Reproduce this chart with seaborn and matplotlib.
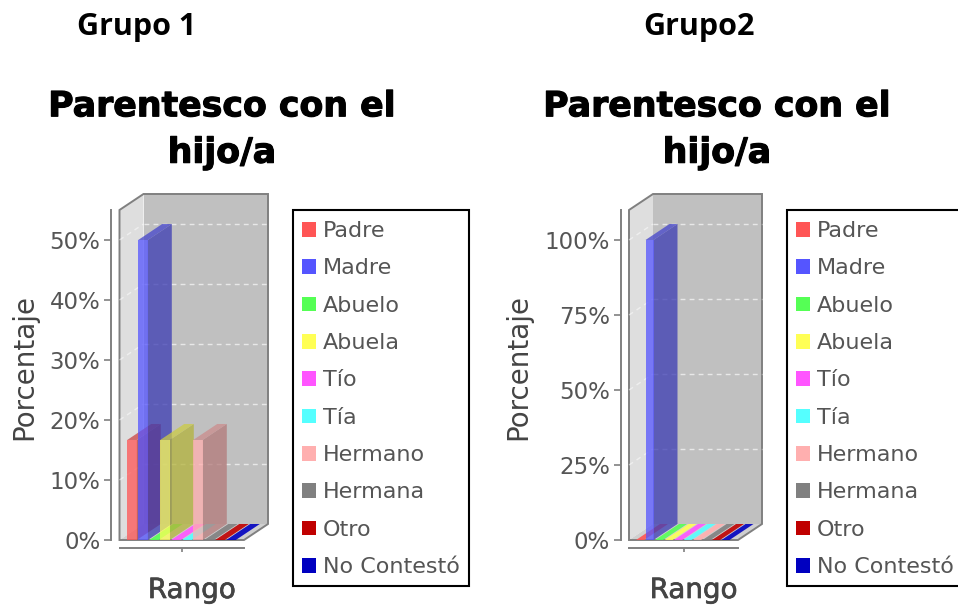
import matplotlib
matplotlib.use("Agg")
import matplotlib.pyplot as plt
import matplotlib.patheffects as pe
from matplotlib.patches import Polygon, Patch, Rectangle
from matplotlib.colors import to_rgb
import pandas as pd
import seaborn as sns

categories = ["Padre", "Madre", "Abuelo", "Abuela", "Tío", "Tía", "Hermano", "Hermana", "Otro", "No Contestó"]
colors = ["#FF5555", "#5555FF", "#55FF55", "#FFFF55", "#FF55FF", "#55FFFF", "#FFAFAF", "#808080", "#C00000", "#0000C0"]
grupo1_values = [16.67, 50, 0, 16.67, 0, 0, 16.67, 0, 0, 0]
grupo2_values = [0, 100, 0, 0, 0, 0, 0, 0, 0, 0]
grupo1_ticks = [0, 10, 20, 30, 40, 50]
grupo2_ticks = [0, 25, 50, 75, 100]

W, H = 958, 608
DEPTH_X, DEPTH_Y = 24, 16
GREY = "#808080"
TEXT = "#555555"

sns.set_theme(style="white")
fig = plt.figure(figsize=(W / 100, H / 100), dpi=100, facecolor="white")


def dark(c, f=0.7):
    return tuple(v * f for v in to_rgb(c))


def panel(values, ticks, ymax, left, right, first, step, bar_px, legend_x, title, title_x, head_x, ylab_off):
    top_px, bottom_px = 210, 540
    ax = fig.add_axes([left / W, 1 - bottom_px / H, (right - left) / W, (bottom_px - top_px) / H])
    ax.patch.set_alpha(0)
    df = pd.DataFrame({"cat": categories, "val": values})
    sns.barplot(data=df, x="cat", y="val", hue="cat", order=categories, hue_order=categories,
                palette=colors, width=bar_px / step, alpha=0.75, saturation=1, legend=False, ax=ax)
    xl = (left - first) / step
    xr = (right - first) / step
    ax.set_xlim(xl, xr)
    ax.set_ylim(0, ymax)
    dx = DEPTH_X / step
    dy = DEPTH_Y * ymax / (bottom_px - top_px)

    def poly(pts, z, **kw):
        ax.add_patch(Polygon(pts, closed=True, clip_on=False, zorder=z, **kw))

    wall_top = ymax
    poly([(xl + dx, dy), (xr + dx, dy), (xr + dx, wall_top + dy), (xl + dx, wall_top + dy)], 0.5,
         facecolor="#c0c0c0", edgecolor="none")
    poly([(xl, 0), (xl + dx, dy), (xl + dx, wall_top + dy), (xl, wall_top)], 0.6,
         facecolor="#dedede", edgecolor="none")
    poly([(xl, 0), (xr, 0), (xr + dx, dy), (xl + dx, dy)], 0.6,
         facecolor="#cfcfcf", edgecolor="none")
    poly([(xl, 0), (xl, wall_top), (xl + dx, wall_top + dy), (xr + dx, wall_top + dy), (xr + dx, dy), (xr, 0)],
         0.7, facecolor="none", edgecolor=GREY, linewidth=1.4)
    for t in ticks[1:]:
        ax.plot([xl + dx, xr + dx], [t + dy, t + dy], color="white", lw=1, ls=(0, (3.5, 3)),
                alpha=0.65, clip_on=False, zorder=0.8)
        ax.plot([xl, xl + dx], [t, t + dy], color="white", lw=1, ls=(0, (3.5, 3)),
                alpha=0.5, clip_on=False, zorder=0.8)

    for i, (bar, c) in enumerate(zip(ax.patches, colors)):
        x0, w, h = bar.get_x(), bar.get_width(), bar.get_height()
        x1 = x0 + w
        z = 2 + i
        bar.set_zorder(z + 0.2)
        bar.set_edgecolor("none")
        if h > 0:
            poly([(x1, 0), (x1 + dx, dy), (x1 + dx, h + dy), (x1, h)], z, facecolor=dark(c), alpha=0.75, edgecolor="none")
            poly([(x0, h), (x1, h), (x1 + dx, h + dy), (x0 + dx, h + dy)], z + 0.1, facecolor=dark(c, 0.8), alpha=0.75, edgecolor="none")
        else:
            poly([(x0, 0), (x1, 0), (x1 + dx, dy), (x0 + dx, dy)], z + 0.1, facecolor=c, alpha=0.9, edgecolor="none")

    for s in ("top", "right"):
        ax.spines[s].set_visible(False)
    for s in ("left", "bottom"):
        ax.spines[s].set_visible(True)
        ax.spines[s].set_position(("outward", 5.8))
        ax.spines[s].set_color(GREY)
        ax.spines[s].set_linewidth(1.4)
    ax.set_yticks(ticks)
    ax.set_yticklabels([f"{t}%" for t in ticks], fontsize=16.5, color=TEXT)
    ax.set_xticks([(xl + xr) / 2])
    ax.set_xticklabels([""])
    ax.tick_params(axis="y", left=True, length=5, width=1.2, color=GREY, pad=3)
    ax.tick_params(axis="x", bottom=True, length=3, width=1.2, color=GREY)
    ax.set_xlabel("Rango", fontsize=20, color="#444444", va="center",
                  path_effects=[pe.withStroke(linewidth=0.5, foreground="#444444")])
    ax.xaxis.set_label_coords(((left + right) / 2 + 10 - left) / (right - left), -50 / 330)
    ax.set_ylabel("Porcentaje", fontsize=20, color="#444444", va="center")
    ax.yaxis.set_label_coords(-ylab_off / (right - left), 0.524)

    fig.add_artist(Rectangle((legend_x / W, 1 - 586 / H), 176 / W, 376 / H, transform=fig.transFigure,
                             facecolor="white", edgecolor="black", linewidth=1.5, zorder=-1))
    handles = [Patch(facecolor=c, edgecolor="none", label=n) for c, n in zip(colors, categories)]
    leg = ax.legend(handles=handles, loc="upper left",
                    bbox_to_anchor=((legend_x + 9) / W, 1 - 221 / H), bbox_transform=fig.transFigure,
                    fontsize=16, frameon=False,
                    handlelength=0.64, handleheight=0.64, handletextpad=0.3, borderpad=0,
                    labelspacing=0.78, borderaxespad=0)
    leg.set_zorder(30)
    for t in leg.get_texts():
        t.set_color(TEXT)

    fig.text(head_x / W, 1 - 27 / H, title, ha="center", va="center", fontsize=22,
             fontweight="bold", family="Open Sans", color="black")
    fig.text(title_x / W, 1 - 129.5 / H, "Parentesco con el\nhijo/a", ha="center", va="center",
             fontsize=25, fontweight="bold", color="black", linespacing=1.46,
             path_effects=[pe.withStroke(linewidth=0.8, foreground="black")])


panel(grupo1_values, grupo1_ticks, 55, 119.5, 244, 132, 11, 9.6, 293, "Grupo 1", 222, 137, 95.5)
panel(grupo2_values, grupo2_ticks, 110, 629, 738, 640, 9.5, 8, 787, "Grupo2", 717, 699, 111)

fig.savefig("out.png", dpi=100, facecolor="white")
